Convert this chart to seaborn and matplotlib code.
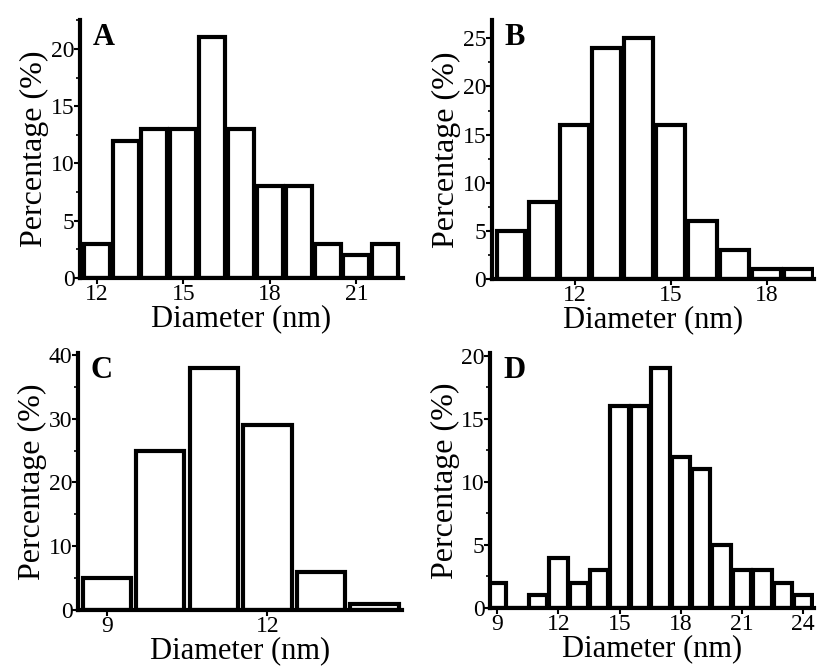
import matplotlib
matplotlib.use("Agg")
import matplotlib.pyplot as plt
import seaborn as sns
from matplotlib.ticker import MultipleLocator, AutoMinorLocator

sns.set_style("ticks", {"axes.edgecolor": "black", "text.color": "black",
                        "axes.labelcolor": "black", "xtick.color": "black",
                        "ytick.color": "black"})
plt.rcParams['font.family'] = ['Liberation Serif', 'DejaVu Serif']

# panel data: diameter bins (nm) and percentages
diam_a = [12, 13, 14, 15, 16, 17, 18, 19, 20, 21, 22]
pct_a = [3, 12, 13, 13, 21, 13, 8, 8, 3, 2, 3]

diam_b = [10, 11, 12, 13, 14, 15, 16, 17, 18, 19]
pct_b = [5, 8, 16, 24, 25, 16, 6, 3, 1, 1]

diam_c = [9, 10, 11, 12, 13, 14]
pct_c = [5, 25, 38, 29, 6, 1]

diam_d = [9, 10, 11, 12, 13, 14, 15, 16, 17, 18, 19, 20, 21, 22, 23, 24]
pct_d = [2, 0, 1, 4, 2, 3, 16, 16, 19, 12, 11, 5, 3, 3, 2, 1]

panels = [
    ("A", diam_a, pct_a, [12, 15, 18, 21], 5, (11.42, 22.6), (0, 22.5), [0.0974, 0.5826, 0.393, 0.387]),
    ("B", diam_b, pct_b, [12, 15, 18], 5, (9.4, 19.5), (0, 26.9), [0.599, 0.581, 0.393, 0.389]),
    ("C", diam_c, pct_c, [9, 12], 10, (8.46, 14.52), (0, 40.3), [0.095, 0.084, 0.395, 0.386]),
    ("D", diam_d, pct_d, [9, 12, 15, 18, 21, 24], 5, (8.65, 24.55), (0, 20.2), [0.597, 0.087, 0.395, 0.383]),
]

fig = plt.figure(figsize=(8.21, 6.66), dpi=100)

for label, x, y, xt, ystep, xlim, ylim, pos in panels:
    ax = fig.add_axes(pos)
    sns.barplot(x=x, y=y, native_scale=True, width=0.9, color="white",
                edgecolor="black", linewidth=3.0, ax=ax, saturation=1)
    ax.set_xlim(*xlim)
    ax.set_ylim(*ylim)
    ax.set_xticks(xt)
    ax.yaxis.set_major_locator(MultipleLocator(ystep))
    ax.yaxis.set_minor_locator(AutoMinorLocator(2))
    sns.despine(ax=ax)
    for s in ("left", "bottom"):
        ax.spines[s].set_linewidth(3.0)
    ax.tick_params(axis="both", which="major", labelsize=17, length=4, width=1.5, pad=0)
    ax.tick_params(axis="y", which="minor", length=3, width=1.2)
    ax.set_xlabel("Diameter (nm)", fontsize=22, labelpad=0)
    ax.set_ylabel("Percentage (%)", fontsize=23, labelpad=1)
    ax.text(0.04, 0.99, label, transform=ax.transAxes, fontsize=22,
            fontweight="bold", va="top", ha="left")

fig.savefig("out.png", dpi=100)
